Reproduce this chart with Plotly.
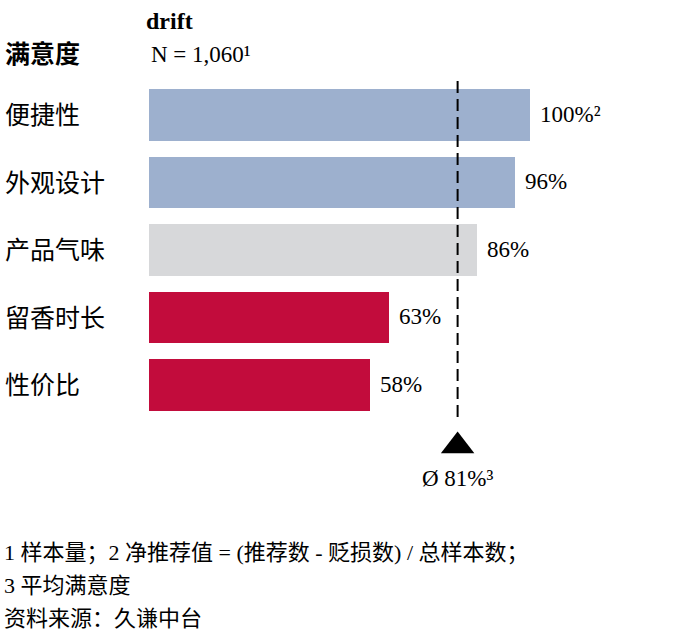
import plotly.graph_objects as go

# satisfaction data
categories = ["便捷性", "外观设计", "产品气味", "留香时长", "性价比"]
values = [100, 96, 86, 63, 58]
value_labels = ["100%²", "96%", "86%", "63%", "58%"]
bar_colors = ["#9DB0CE", "#9DB0CE", "#D7D8DA", "#C20C3C", "#C20C3C"]
average = 81
average_label = "Ø 81%³"

SERIF = "Liberation Serif, Noto Sans CJK SC"
CJK = "Noto Sans CJK SC"

W, H = 680, 635
TOP, BOTTOM, LEFT, RIGHT = 80, 500, 149, 644   # plot area in pixels
plot_w = RIGHT - LEFT
plot_h = BOTTOM - TOP
ROW = 67.5          # px per row
Y0 = -(115 - TOP) / ROW


def px(x):
    return (x - LEFT) / plot_w


def py(y):
    return (BOTTOM - y) / plot_h


def dy(y):
    return (y - 115) / ROW


rows = list(range(len(categories)))

fig = go.Figure()
fig.add_trace(go.Bar(
    x=values, y=rows, orientation="h",
    marker=dict(color=bar_colors, line=dict(width=0)),
    width=0.77, hoverinfo="skip", showlegend=False,
))

# average marker
fig.add_trace(go.Scatter(
    x=[average], y=[dy(446)], mode="markers",
    marker=dict(symbol="triangle-up", size=29, color="black"),
    cliponaxis=False, showlegend=False, hoverinfo="skip",
))

fig.add_shape(type="line", xref="x", yref="y", x0=average, x1=average,
              y0=dy(81), y1=dy(420), line=dict(color="black", width=2, dash="12px,6px"))

ann = []
for i, (cat, v, lab) in enumerate(zip(categories, values, value_labels)):
    ann.append(dict(x=px(3), xref="paper", y=i, yref="y", text=cat, showarrow=False,
                    xanchor="left", yanchor="middle", yshift=2,
                    font=dict(family=CJK, size=25, color="black")))
    ann.append(dict(x=v, xref="x", y=i, yref="y", text=lab, showarrow=False,
                    xanchor="left", yanchor="middle", xshift=8, yshift=1,
                    font=dict(family=SERIF, size=23, color="black")))

ann.append(dict(x=average, xref="x", y=dy(478), yref="y", text=average_label, showarrow=False,
                xanchor="center", yanchor="middle",
                font=dict(family=SERIF, size=23, color="black")))

ann.append(dict(x=px(3), y=py(52), xref="paper", yref="paper", text="<b>满意度</b>",
                showarrow=False, xanchor="left", yanchor="middle",
                font=dict(family=CJK, size=25, color="black")))
ann.append(dict(x=px(144), y=py(21), xref="paper", yref="paper", text="<b>drift</b>",
                showarrow=False, xanchor="left", yanchor="middle",
                font=dict(family=SERIF, size=24, color="black")))
ann.append(dict(x=px(149), y=py(54), xref="paper", yref="paper", text="N = 1,060¹",
                showarrow=False, xanchor="left", yanchor="middle",
                font=dict(family=SERIF, size=23, color="black")))

footnotes = ["1 样本量；2 净推荐值 = (推荐数 - 贬损数) / 总样本数；",
             "3 平均满意度",
             "资料来源：久谦中台"]
for line, y in zip(footnotes, [552, 585, 618]):
    ann.append(dict(x=px(2), y=py(y), xref="paper", yref="paper", text=line,
                    showarrow=False, xanchor="left", yanchor="middle",
                    font=dict(family=SERIF, size=22, color="black")))

fig.update_layout(
    width=W, height=H,
    margin=dict(l=LEFT, r=W - RIGHT, t=TOP, b=H - BOTTOM),
    plot_bgcolor="white", paper_bgcolor="white",
    xaxis=dict(range=[0, plot_w / 3.81], visible=False, fixedrange=True),
    yaxis=dict(range=[dy(BOTTOM), Y0], visible=False, fixedrange=True),
    annotations=ann,
    bargap=0,
)

# drop the default 8px body margin so the figure sits at the window corner
fig.write_html("out.html", config={"displayModeBar": False},
               post_script="document.body.style.margin='0';")
